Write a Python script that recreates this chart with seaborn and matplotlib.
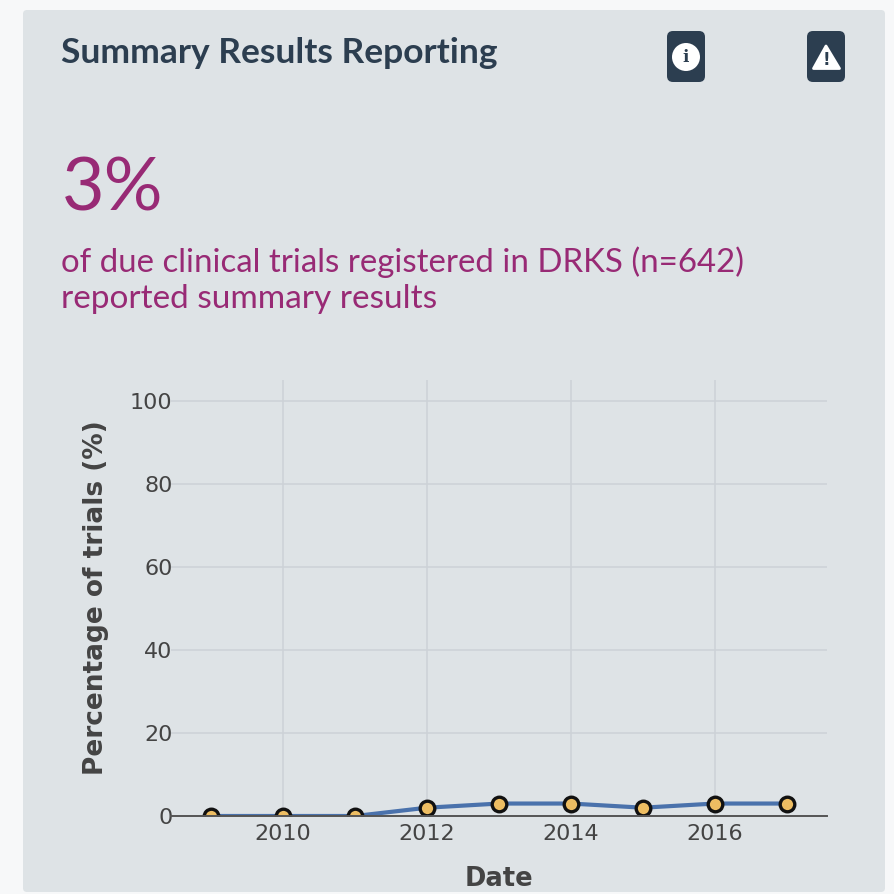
import matplotlib
matplotlib.use("Agg")
import matplotlib.pyplot as plt
from matplotlib.patches import FancyBboxPatch, Circle, Polygon
import pandas as pd
import seaborn as sns

years = [2009, 2010, 2011, 2012, 2013, 2014, 2015, 2016, 2017]
percent = [0, 0, 0, 2, 3, 3, 2, 3, 3]
x_ticks = [2010, 2012, 2014, 2016]
y_ticks = [0, 20, 40, 60, 80, 100]

W, H = 895, 894
PANEL = "#dee3e6"
NAVY = "#2c3e50"
PURPLE = "#982a75"
INK = "#444444"

sns.set_theme(style="white")
plt.rcParams["font.family"] = ["DejaVu Sans"]

fig = plt.figure(figsize=(W / 100, H / 100), dpi=100, facecolor="#f7f8f9")

# Page-level layer in pixel coordinates for the card, headline text and icons
page = fig.add_axes([0, 0, 1, 1], zorder=0)
page.set_xlim(0, W)
page.set_ylim(H, 0)
page.axis("off")
page.add_patch(FancyBboxPatch((23, 10), 862, 882, boxstyle="round,pad=0,rounding_size=4",
                              fc=PANEL, ec="none"))

page.text(61, 53, "Summary Results Reporting", family="Lato", weight="bold", fontsize=25.5,
          color=NAVY, va="center", ha="left")
page.text(62, 190, "3%", family="Lato", fontsize=53, color=PURPLE, va="center", ha="left")
page.text(61, 262, "of due clinical trials registered in DRKS (n=642)", family="Lato", fontsize=23.8,
          color=PURPLE, va="center", ha="left")
page.text(61, 299, "reported summary results", family="Lato", fontsize=24.0,
          color=PURPLE, va="center", ha="left")

# Info button
page.add_patch(FancyBboxPatch((667, 31), 38, 51, boxstyle="round,pad=0,rounding_size=6",
                              fc=NAVY, ec="none"))
page.add_patch(Circle((686, 57), 14, fc="white", ec="none"))
page.text(686, 57, "i", family="DejaVu Serif", weight="bold", fontsize=12, color=NAVY,
          ha="center", va="center")

# Warning button
page.add_patch(FancyBboxPatch((807, 31), 38, 51, boxstyle="round,pad=0,rounding_size=6",
                              fc=NAVY, ec="none"))
page.add_patch(Polygon([(826, 46), (839.5, 68.5), (813.5, 68.5)], closed=True, fc="white", ec="white",
                       lw=2, joinstyle="round"))
page.text(826, 60, "!", family="DejaVu Sans", weight="bold", fontsize=12, color=NAVY,
          ha="center", va="center")

# Trend chart
left, right, top, bottom = 171, 827, 380, 816
ax = fig.add_axes([left / W, 1 - bottom / H, (right - left) / W, (bottom - top) / H],
                  facecolor="none", zorder=1)
frame = pd.DataFrame({"year": years, "percent": percent})
sns.lineplot(data=frame, x="year", y="percent", ax=ax, color="#4a72ac", linewidth=3,
             marker="o", markersize=10.5, markerfacecolor="#edbd62",
             markeredgecolor="#111111", markeredgewidth=2.4, errorbar=None)

ax.set_xlim(2008.44, 2017.56)
ax.set_ylim(0, 105)
ax.set_xticks(x_ticks)
ax.set_yticks(y_ticks)
ax.grid(True, color="#cdd2d7", linewidth=1.1)
ax.set_axisbelow(True)
for side in ("top", "right", "left"):
    ax.spines[side].set_visible(False)
ax.spines["bottom"].set_color("#555555")
ax.spines["bottom"].set_linewidth(1.4)
ax.tick_params(axis="x", length=0, pad=5.5, labelsize=16, labelcolor=INK)
ax.tick_params(axis="y", length=0, pad=-1, labelsize=16, labelcolor=INK)
ax.set_xlabel("Date", fontsize=18.5, fontweight="bold", color=INK, labelpad=16)
ax.set_ylabel("Percentage of trials (%)", fontsize=19, fontweight="bold", color=INK, labelpad=15)

fig.savefig("out.png", dpi=100, facecolor=fig.get_facecolor())
